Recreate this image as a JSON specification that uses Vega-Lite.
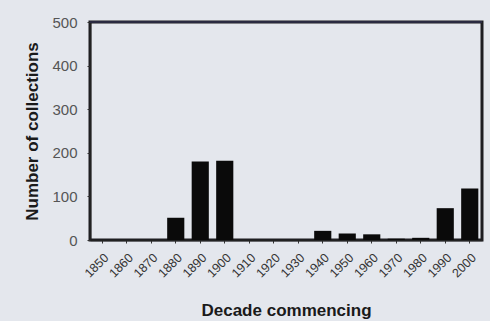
{
  "$schema": "https://vega.github.io/schema/vega-lite/v6.json",
  "width": 392,
  "height": 218,
  "autosize": "none",
  "padding": {"left": 90, "top": 22, "right": 8, "bottom": 81},
  "background": "#e4e7ed",
  "config": {
    "font": "Liberation Sans",
    "view": {"stroke": "rgb(30,30,34)", "strokeWidth": 3}
  },
  "data": {
    "values": [
      {"decade": "1850", "count": 0},
      {"decade": "1860", "count": 0},
      {"decade": "1870", "count": 0},
      {"decade": "1880", "count": 51},
      {"decade": "1890", "count": 180},
      {"decade": "1900", "count": 182},
      {"decade": "1910", "count": 0},
      {"decade": "1920", "count": 0},
      {"decade": "1930", "count": 0},
      {"decade": "1940", "count": 21},
      {"decade": "1950", "count": 15},
      {"decade": "1960", "count": 13},
      {"decade": "1970", "count": 3},
      {"decade": "1980", "count": 5},
      {"decade": "1990", "count": 73},
      {"decade": "2000", "count": 118}
    ]
  },
  "layer": [
    {
      "mark": {"type": "bar", "color": "#0a0a0a"},
      "encoding": {
        "x": {
          "field": "decade",
          "type": "ordinal",
          "sort": null,
          "scale": {"paddingInner": 0.3, "paddingOuter": 0.15},
          "axis": {
            "title": "Decade commencing",
            "titleFontSize": 17,
            "titleFontWeight": "bold",
            "titleColor": "#1a1a1a",
            "titlePadding": 23,
            "labelAngle": -45,
            "labelFontSize": 12.5,
            "labelColor": "#333333",
            "labelPadding": 8,
            "domainColor": "#222222",
            "domainWidth": 1.5,
            "tickColor": "#333333",
            "tickSize": 3
          }
        },
        "y": {
          "field": "count",
          "type": "quantitative",
          "scale": {"domain": [0, 500]},
          "axis": {
            "title": "Number of collections",
            "values": [0, 100, 200, 300, 400, 500],
            "titleFontSize": 17,
            "titleFontWeight": "bold",
            "titleColor": "#1a1a1a",
            "titlePadding": 10,
            "labelFontSize": 15,
            "labelColor": "#555555",
            "labelPadding": 10,
            "grid": false,
            "domainColor": "#222222",
            "domainWidth": 1.5,
            "tickColor": "#333333",
            "tickSize": 3
          }
        }
      }
    },
    {
      "mark": {"type": "rule", "color": "#2a2a40", "strokeWidth": 2},
      "encoding": {"y": {"datum": 500}}
    }
  ]
}
